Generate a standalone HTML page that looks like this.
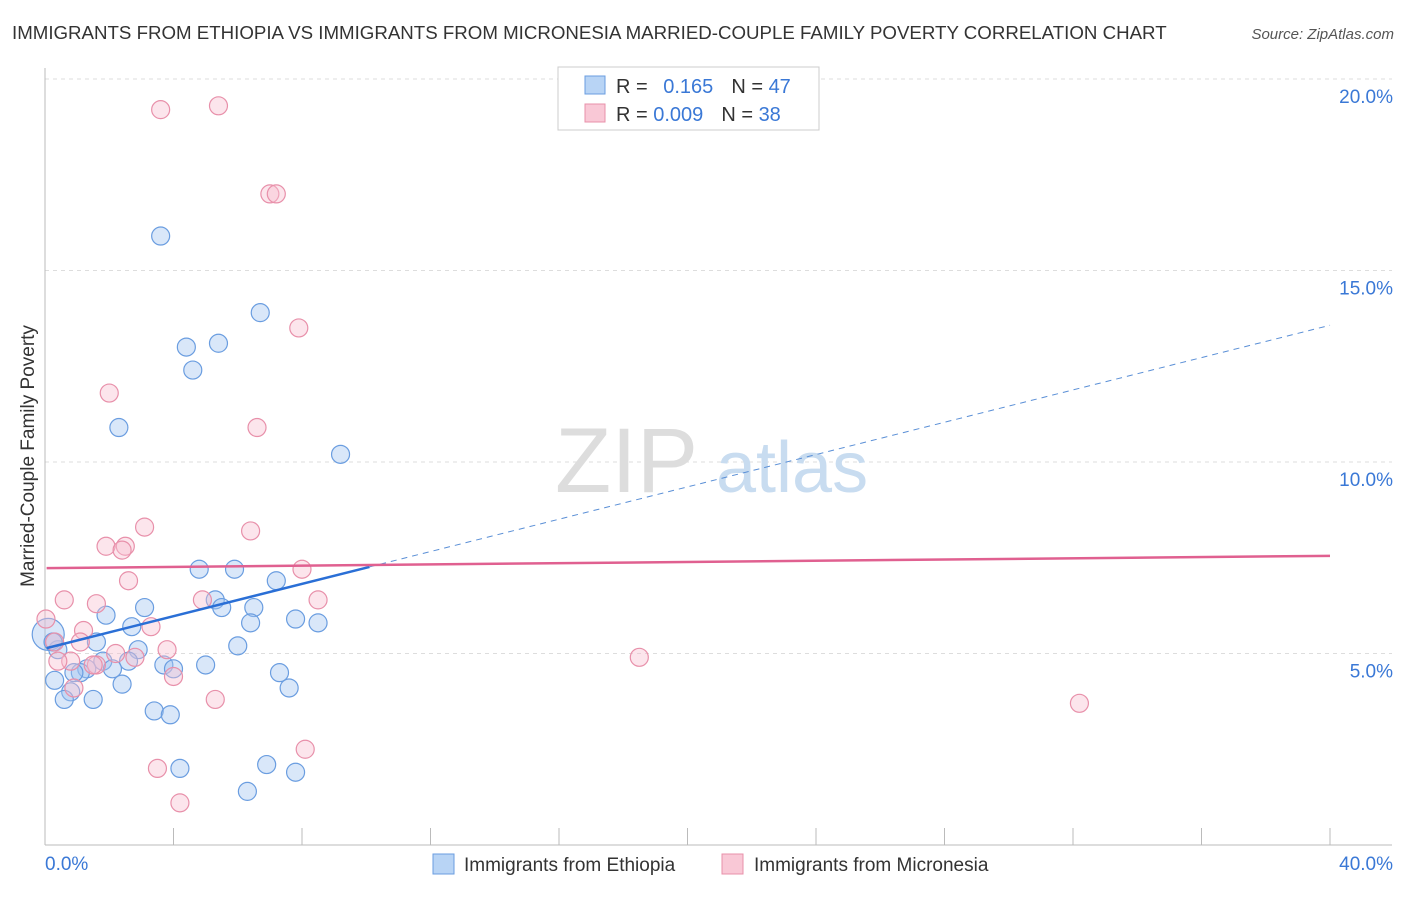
<!DOCTYPE html>
<html><head><meta charset="utf-8"><style>
body{margin:0;background:#fff;font-family:"Liberation Sans",sans-serif;}
svg text{font-family:"Liberation Sans",sans-serif;}
</style></head><body>
<svg width="1406" height="892" xmlns="http://www.w3.org/2000/svg">
<text x="12" y="39" font-size="18.7" fill="#333">IMMIGRANTS FROM ETHIOPIA VS IMMIGRANTS FROM MICRONESIA MARRIED-COUPLE FAMILY POVERTY CORRELATION CHART</text>
<text x="1394" y="39" font-size="15" fill="#555" text-anchor="end" font-style="italic">Source: ZipAtlas.com</text>
<text transform="translate(34,456) rotate(-90)" font-size="19" fill="#333" text-anchor="middle">Married-Couple Family Poverty</text>
<g id="grid"></g>
<g><text x="555" y="492" font-size="92" fill="#ddd" font-family="Liberation Serif,serif">ZIP</text><text x="716" y="492" font-size="72" fill="#c8dcf0">atlas</text></g>
<g id="axes"></g>
<g id="pts"></g>
<g id="lines"></g>
<g>
<rect x="558" y="67" width="261" height="63" fill="#fff" stroke="#ccc"/>
<rect x="585" y="76" width="20" height="18" fill="#b8d4f5" stroke="#6a9de0"/>
<rect x="585" y="104" width="20" height="18" fill="#f9c8d6" stroke="#e890aa"/>
<text x="616" y="93" font-size="20" fill="#333">R = <tspan fill="#3a78d6" dx="10">0.165</tspan><tspan dx="18" fill="#333">N = </tspan><tspan fill="#3a78d6">47</tspan></text>
<text x="616" y="121" font-size="20" fill="#333">R = <tspan fill="#3a78d6">0.009</tspan><tspan dx="18" fill="#333">N = </tspan><tspan fill="#3a78d6">38</tspan></text>
</g>
<g>
<rect x="433" y="854" width="21" height="20" fill="#b8d4f5" stroke="#6a9de0"/>
<text x="464" y="871" font-size="19" fill="#333">Immigrants from Ethiopia</text>
<rect x="722" y="854" width="21" height="20" fill="#f9c8d6" stroke="#e890aa"/>
<text x="754" y="871" font-size="19" fill="#333">Immigrants from Micronesia</text>
</g>
</svg>
<script>
const xTicks=[0,40];
const yTicks=[5,10,15,20];
const blueX=[3.6,6.7,4.4,5.4,4.6,2.3,9.2,4.8,5.9,7.2,5.3,3.1,6.5,5.5,1.9,7.8,8.5,6.4,2.7,2.9,6.0,1.6,0.4,0.1,1.8,2.6,3.7,4.0,2.1,1.3,5.0,1.1,7.3,0.3,2.4,7.6,0.8,0.6,1.5,3.4,3.9,4.2,6.9,7.8,6.3,0.25,0.9];
const blueY=[15.9,13.9,13.0,13.1,12.4,10.9,10.2,7.2,7.2,6.9,6.4,6.2,6.2,6.2,6.0,5.9,5.8,5.8,5.7,5.1,5.2,5.3,5.1,5.5,4.8,4.8,4.7,4.6,4.6,4.6,4.7,4.5,4.5,4.3,4.2,4.1,4.0,3.8,3.8,3.5,3.4,2.0,2.1,1.9,1.4,5.3,4.5];
const pinkX=[3.6,5.4,7.0,7.2,7.9,2.0,6.6,3.1,6.4,1.9,2.5,2.4,2.6,8.0,0.6,1.6,4.9,8.5,0.03,1.2,3.3,1.1,0.3,3.8,2.2,2.8,0.8,0.4,1.6,1.5,18.5,4.0,0.9,5.3,32.2,8.1,3.5,4.2];
const pinkY=[19.2,19.3,17.0,17.0,13.5,11.8,10.9,8.3,8.2,7.8,7.8,7.7,6.9,7.2,6.4,6.3,6.4,6.4,5.9,5.6,5.7,5.3,5.3,5.1,5.0,4.9,4.8,4.8,4.7,4.7,4.9,4.4,4.1,3.8,3.7,2.5,2.0,1.1];
const blueLine=[5.13,0.211,10.1];
const pinkLine=[7.23,0.008];
const X=v=>45+v/40*1285, Y=v=>845-v/5*191.5;
const ns="http://www.w3.org/2000/svg";
function mk(t,a,p){const e=document.createElementNS(ns,t);for(const k in a)e.setAttribute(k,a[k]);p.appendChild(e);return e;}
const grid=document.getElementById('grid'),axes=document.getElementById('axes'),pts=document.getElementById('pts'),lines=document.getElementById('lines');
yTicks.forEach(v=>{const l=mk('line',{x1:45,x2:1392,y1:Y(v),y2:Y(v),stroke:'#ddd','stroke-dasharray':'4,4'},grid);


const t=mk('text',{x:1393,y:Y(v)+24,'font-size':19,fill:'#3a78d6','text-anchor':'end'},axes);t.textContent=v.toFixed(1)+'%';

});
mk('line',{x1:45,x2:45,y1:68,y2:845,stroke:'#bbb'},axes);
mk('line',{x1:45,x2:1392,y1:845,y2:845,stroke:'#bbb'},axes);
for(let i=0;i<=10;i++){const x=X(i*4);mk('line',{x1:x,x2:x,y1:828,y2:845,stroke:'#bbb'},axes);}
xTicks.forEach((v,i)=>{const t=mk('text',{x:i?1393:45,y:870,'font-size':19,fill:'#3a78d6','text-anchor':i?'end':'start'},axes);t.textContent=v.toFixed(1)+'%';

});
blueX.forEach((x,i)=>{const c=mk('circle',{cx:X(x),cy:Y(blueY[i]),r:(i==23?16:9),fill:'rgba(160,196,240,0.4)',stroke:'#6a9de0','stroke-width':1.2},pts);

});
pinkX.forEach((x,i)=>{const c=mk('circle',{cx:X(x),cy:Y(pinkY[i]),r:9,fill:'rgba(248,190,208,0.4)',stroke:'#e890aa','stroke-width':1.2},pts);

});
const bl=(x)=>blueLine[0]+blueLine[1]*x;
let e=mk('line',{x1:X(0.05),y1:Y(bl(0.05)),x2:X(blueLine[2]),y2:Y(bl(blueLine[2])),stroke:'#2a6fd6','stroke-width':2.5},lines);


e=mk('line',{x1:X(blueLine[2]),y1:Y(bl(blueLine[2])),x2:X(40),y2:Y(bl(40)),stroke:'#5a8fd6','stroke-width':1,'stroke-dasharray':'6,5'},lines);


e=mk('line',{x1:X(0.05),y1:Y(pinkLine[0]),x2:X(40),y2:Y(pinkLine[0]+pinkLine[1]*40),stroke:'#e06090','stroke-width':2.5},lines);


</script>
</body></html>
